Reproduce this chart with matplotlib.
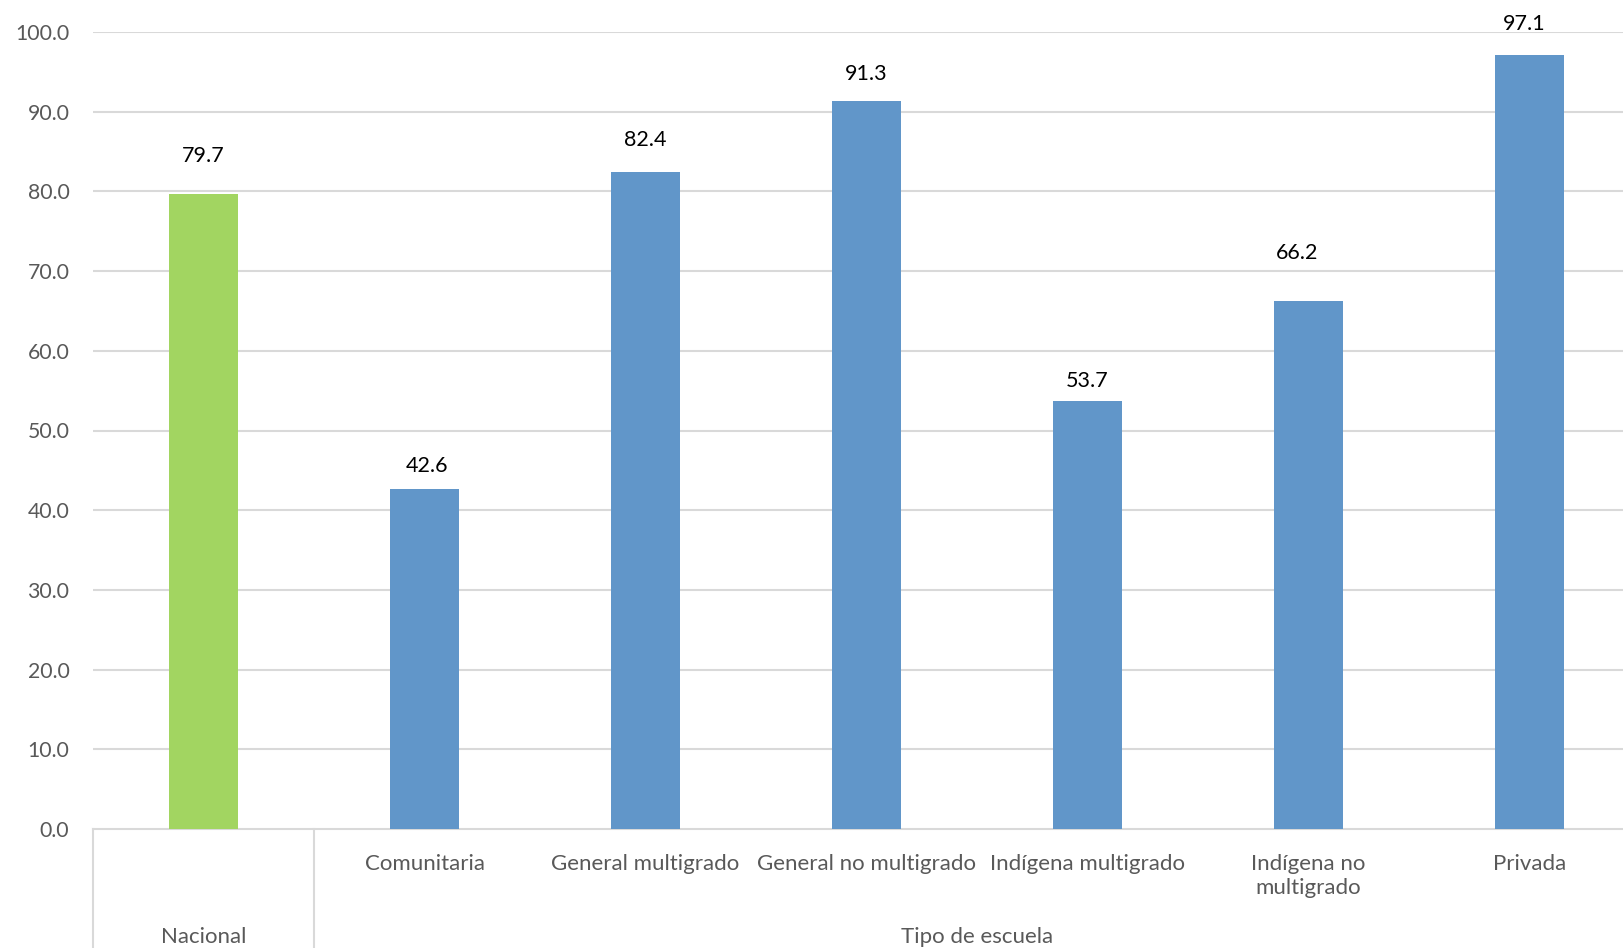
import matplotlib
matplotlib.use("Agg")
import matplotlib.pyplot as plt
from matplotlib.lines import Line2D

# ---- data ----
categories = ["Nacional", "Comunitaria", "General multigrado", "General no multigrado",
              "Indígena multigrado", "Indígena no\nmultigrado", "Privada"]
values = [79.7, 42.6, 82.4, 91.3, 53.7, 66.2, 97.1]
group_labels = ["Nacional", "Tipo de escuela"]
yticks = [0, 10, 20, 30, 40, 50, 60, 70, 80, 90, 100]

# ---- style ----
W, H = 1623, 948
green = "#A2D561"
blue = "#6196C9"
gray_txt = "#595959"
grid_c = "#D9D9D9"
# manual label offsets (px) as in reference
lab_dy = [38, 23, 32, 27, 20, 48, 31]
lab_dx = [0, 2, 0, 0, 0, -11, -5]

plt.rcParams['font.family'] = ['Lato', 'DejaVu Sans']

fig = plt.figure(figsize=(W / 100, H / 100), dpi=100)
x0, x1 = 93, 1640
y0, y1 = 829, 32
ax = fig.add_axes([x0 / W, (H - y0) / H, (x1 - x0) / W, (y0 - y1) / H])

xs = list(range(len(values)))
colors = [green] + [blue] * (len(values) - 1)
ax.bar(xs, values, width=0.316, color=colors, zorder=3)
ax.set_xlim(-0.5, len(values) - 0.5)
ax.set_ylim(0, 100)
ax.set_yticks(yticks)
ax.set_yticklabels([f"{v:.1f}" for v in yticks], fontsize=15.3, color=gray_txt)
ax.tick_params(axis='y', length=0, pad=17)
ax.tick_params(axis='x', length=0, labelbottom=False)
for v in yticks[1:]:
    ax.axhline(v, color=grid_c, lw=1.5, zorder=1)
for s in ['top', 'right', 'left']:
    ax.spines[s].set_visible(False)
ax.spines['bottom'].set_color(grid_c)
ax.spines['bottom'].set_linewidth(1.5)

for i, v in enumerate(values):
    ax.annotate(f"{v:.1f}", (i, v), xytext=(lab_dx[i] * 0.72, lab_dy[i] * 0.72),
                textcoords='offset points', ha='center', va='center',
                fontsize=15.5, color='black')

# category labels (first row)
for i in range(1, len(categories)):
    ax.text(i, -3.1, categories[i], ha='center', va='top', fontsize=16,
            color=gray_txt, linespacing=1.25, clip_on=False)

# group labels
ax.text(0, -13.5, group_labels[0], ha='center', va='center', fontsize=16, color=gray_txt,
        clip_on=False)
ax.text((1 + len(values) - 1) / 2, -13.5, group_labels[1], ha='center', va='center',
        fontsize=16, color=gray_txt, clip_on=False)

# vertical dividers
for xd in [-0.5, 0.5]:
    ax.add_line(Line2D([xd, xd], [0, -16], color=grid_c, lw=1.5, clip_on=False))

fig.savefig("out.png", dpi=100)
